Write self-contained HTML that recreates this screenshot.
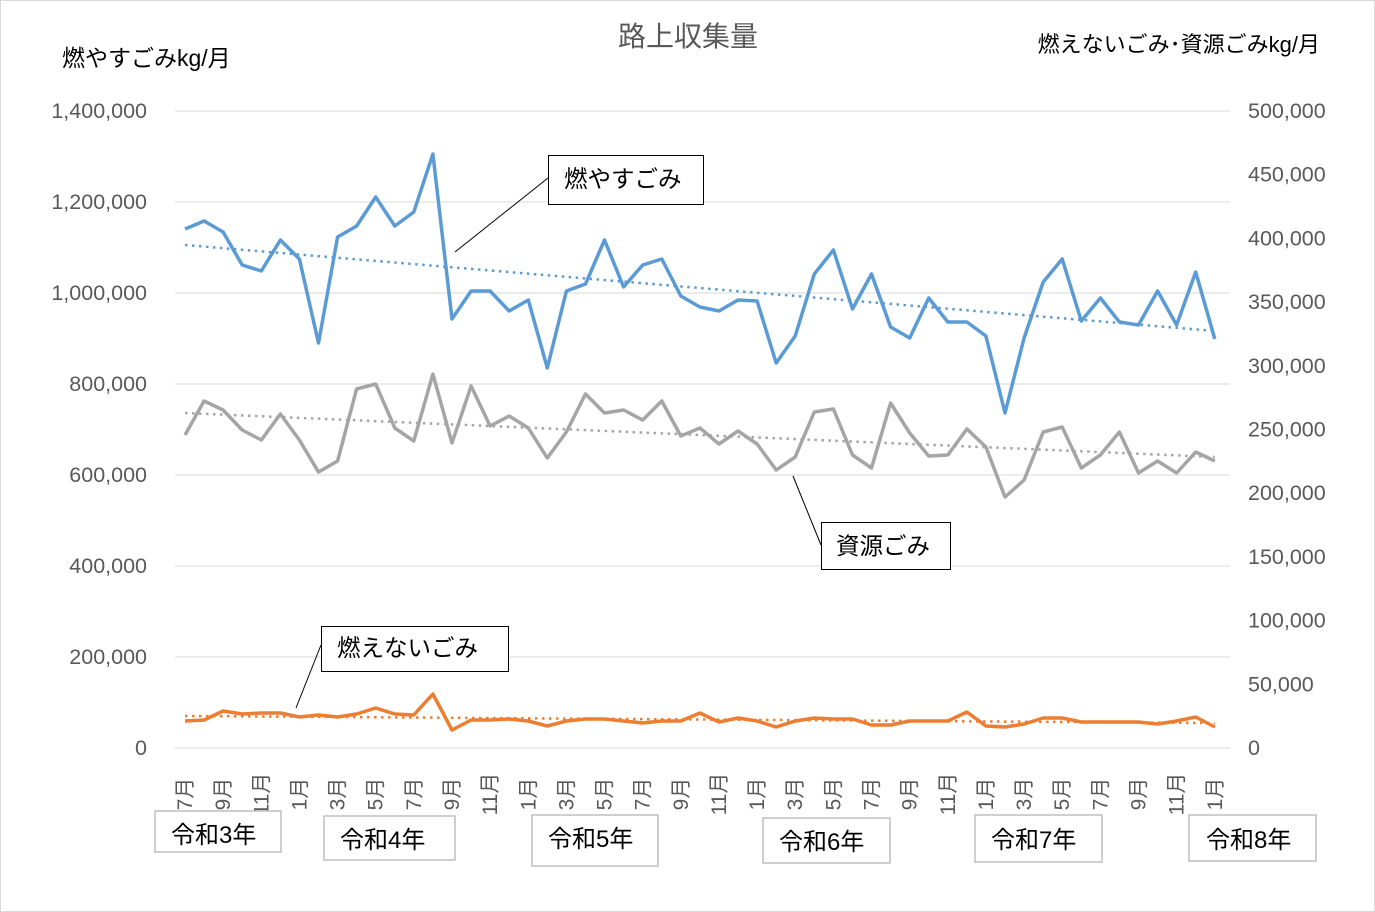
<!DOCTYPE html>
<html><head><meta charset="utf-8"><style>
body{margin:0;background:#fff}
svg{display:block;font-family:"Liberation Sans","Noto Sans CJK JP",sans-serif}
</style></head><body>
<svg id="s" width="1375" height="912" xmlns="http://www.w3.org/2000/svg">
<rect x="0.5" y="0.5" width="1374" height="911" fill="#fff" stroke="#d9d9d9"/>
<text x="688" y="46" font-size="28" fill="#595959" text-anchor="middle">路上収集量</text>
<text x="62" y="66" font-size="23" fill="#000">燃やすごみkg/月</text>
<text x="1320" y="52" font-size="22" fill="#000" text-anchor="end">燃えないごみ･資源ごみkg/月</text>
<g id="grid" stroke="#d9d9d9" stroke-width="1"></g>
<g id="lab" font-size="21.5" fill="#595959"></g>
<g id="ser"></g>
<g font-size="23.5" fill="#000">
<rect x="548.5" y="155.5" width="155" height="49" fill="#fff" stroke="#000"/>
<line x1="548" y1="178" x2="455" y2="252" stroke="#000"/>
<text x="564" y="187">燃やすごみ</text>
<rect x="821.5" y="522.5" width="129" height="47" fill="#fff" stroke="#000"/>
<line x1="821" y1="545" x2="793" y2="476" stroke="#000"/>
<text x="836" y="554">資源ごみ</text>
<rect x="321.5" y="626.5" width="187" height="45" fill="#fff" stroke="#000"/>
<line x1="321" y1="645" x2="296" y2="708" stroke="#000"/>
<text x="337" y="656">燃えないごみ</text>
</g>
<g font-size="24" fill="#000" stroke-width="1.5">
<rect x="155" y="811" width="126" height="41" fill="#fff" stroke="#bfbfbf"/><text x="171" y="843">令和3年</text>
<rect x="324" y="816" width="131" height="44" fill="#fff" stroke="#bfbfbf"/><text x="340" y="848">令和4年</text>
<rect x="532" y="815" width="126" height="51" fill="#fff" stroke="#bfbfbf"/><text x="548" y="847">令和5年</text>
<rect x="763" y="818" width="127" height="45" fill="#fff" stroke="#bfbfbf"/><text x="779" y="850">令和6年</text>
<rect x="975" y="815" width="127" height="47" fill="#fff" stroke="#bfbfbf"/><text x="991" y="848">令和7年</text>
<rect x="1189" y="815" width="127" height="46" fill="#fff" stroke="#bfbfbf"/><text x="1206" y="848">令和8年</text>
</g>
</svg>
<script>
var NS="http://www.w3.org/2000/svg";
function el(p,t,a,txt){var e=document.createElementNS(NS,t);for(var k in a)e.setAttribute(k,a[k]);if(txt!=null)e.textContent=txt;document.getElementById(p).appendChild(e);return e;}
var L=["0","200,000","400,000","600,000","800,000","1,000,000","1,200,000","1,400,000"];
for(var i=0;i<8;i++){var y=748-91*i;el("grid","line",{x1:175,x2:1230,y1:y,y2:y});el("lab","text",{x:147,y:y+7,"text-anchor":"end"},L[i]);}
var R=["0","50,000","100,000","150,000","200,000","250,000","300,000","350,000","400,000","450,000","500,000"];
for(var i=0;i<11;i++){el("lab","text",{x:1248,y:748-63.7*i+7},R[i]);}
var dx=19.07,x0=185;
var m=[7,9,11,1,3,5,7,9,11,1,3,5,7,9,11,1,3,5,7,9,11,1,3,5,7,9,11,1];
for(var j=0;j<m.length;j++){var x=x0+dx*2*j;el("lab","text",{x:0,y:0,transform:"translate("+(x+7)+",794) rotate(-90)","text-anchor":"middle","font-size":"21"},m[j]+"月");}
var B=[229,221,232,265,271,240,259,343,237,226,197,226,212,154,319,291,291,311,300,368,291,284,240,287,265,259,296,307,311,300,301,363,336,274,250,309,274,327,338,298,322,322,336,413,338,282,259,321,298,322,325,291,325,272,339];
var G=[435,401,410,430,440,414,440,472,461,389,384,428,441,374,443,386,426,416,428,458,432,394,413,410,420,401,436,428,444,431,444,470,457,412,409,455,468,403,433,456,455,429,447,497,480,432,427,468,455,432,473,461,473,452,461];
var O=[721,720,711,714,713,713,717,715,717,714,708,714,715,694,730,720,720,719,721,726,721,719,719,721,723,721,721,713,722,718,721,727,721,718,719,719,725,725,721,721,721,712,726,727,724,718,718,722,722,722,722,724,721,717,727];
function pts(a){return a.map(function(v,i){return (x0+dx*i).toFixed(1)+","+v}).join(" ");}
function trend(y1,y2,c){el("ser","line",{x1:x0,y1:y1,x2:x0+dx*54,y2:y2,stroke:c,"stroke-width":2.5,"stroke-dasharray":"2.5 4.5"});}
trend(245,331,"#5b9bd5");trend(413,457,"#a5a5a5");trend(716,723,"#ed7d31");
el("ser","polyline",{points:pts(B),fill:"none",stroke:"#5b9bd5","stroke-width":3.5,"stroke-linejoin":"round"});
el("ser","polyline",{points:pts(G),fill:"none",stroke:"#a5a5a5","stroke-width":3.5,"stroke-linejoin":"round"});
el("ser","polyline",{points:pts(O),fill:"none",stroke:"#ed7d31","stroke-width":3.5,"stroke-linejoin":"round"});
</script>
</body></html>
